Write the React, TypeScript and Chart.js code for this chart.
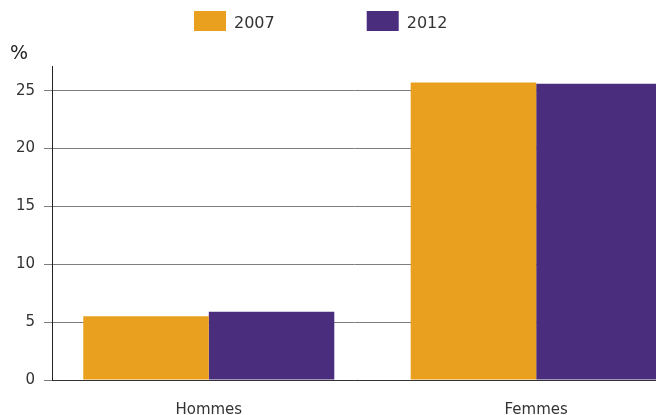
import React, { useEffect, useRef } from "react";
import { Chart, registerables } from "chart.js";

Chart.register(...registerables);

const categories = ["Hommes", "Femmes"];
const series2007 = [5.5, 25.7];
const series2012 = [5.9, 25.6];
const seriesLabels = ["2007", "2012"];
const seriesColors = ["#E9A01E", "#4B2D7E"];
const yTicks = [0, 5, 10, 15, 20, 25];
const yUnit = "%";

const FONT = "'DejaVu Sans', Verdana, sans-serif";

const extrasPlugin = {
  id: "extras",
  afterDraw(chart: any) {
    const ctx = chart.ctx;
    ctx.save();
    // y unit label
    ctx.fillStyle = "#222";
    ctx.font = `19px ${FONT}`;
    ctx.textAlign = "left";
    ctx.textBaseline = "alphabetic";
    ctx.fillText(yUnit, 10, 59);
    // legend
    ctx.font = `16px ${FONT}`;
    let x = 194;
    chart.data.datasets.forEach((ds: any) => {
      ctx.fillStyle = ds.backgroundColor;
      ctx.fillRect(x, 11, 32, 20);
      ctx.fillStyle = "#333";
      ctx.fillText(ds.label, x + 40, 28);
      x += 40 + ctx.measureText(ds.label).width + 92;
    });
    ctx.restore();
  },
};

export default function App() {
  const ref = useRef<HTMLCanvasElement>(null);
  useEffect(() => {
    if (!ref.current) return;
    const mk = (vals: number[]) => vals.map((v, i) => ({ x: i, y: v }));
    const chart = new Chart(ref.current, {
      type: "bar",
      data: {
        datasets: [
          { label: seriesLabels[0], data: mk(series2007), backgroundColor: seriesColors[0], borderWidth: 0 },
          { label: seriesLabels[1], data: mk(series2012), backgroundColor: seriesColors[1], borderWidth: 0 },
        ],
      } as any,
      options: {
        animation: false,
        responsive: false,
        devicePixelRatio: 1,
        layout: { padding: { top: 66, left: 0, right: 0, bottom: 0 } },
        plugins: { legend: { display: false }, tooltip: { enabled: false } },
        datasets: { bar: { categoryPercentage: 0.7667, barPercentage: 1 } },
        scales: {
          x: {
            type: "linear",
            offset: false,
            min: -0.4789,
            max: 1.3659,
            grid: { display: false, offset: false },
            border: { display: true, color: "#333", width: 1 },
            afterBuildTicks: (s: any) => {
              s.ticks = categories.map((_, i) => ({ value: i }));
            },
            afterFit: (s: any) => {
              s.height = 35;
            },
            ticks: {
              padding: 13,
              color: "#333",
              font: { family: FONT, size: 15 },
              maxRotation: 0,
              callback: (v: any) => categories[v] ?? "",
            },
          },
          y: {
            min: 0,
            max: 27.13,
            afterBuildTicks: (s: any) => {
              s.ticks = yTicks.map((v) => ({ value: v }));
            },
            afterFit: (s: any) => {
              s.width = 52;
            },
            grid: { color: "#7d7d7d", lineWidth: 1, tickLength: 8, drawTicks: true },
            border: { display: true, color: "#222", width: 1 },
            ticks: {
              padding: 9,
              color: "#333",
              font: { family: FONT, size: 15 },
            },
          },
        },
      } as any,
      plugins: [extrasPlugin],
    });
    return () => chart.destroy();
  }, []);
  return (
    <div style={{ position: "fixed", left: 0, top: 0, width: 656, height: 415, overflow: "hidden", background: "#fff" }}>
      <canvas ref={ref} width={656} height={415} style={{ display: "block" }} />
    </div>
  );
}
